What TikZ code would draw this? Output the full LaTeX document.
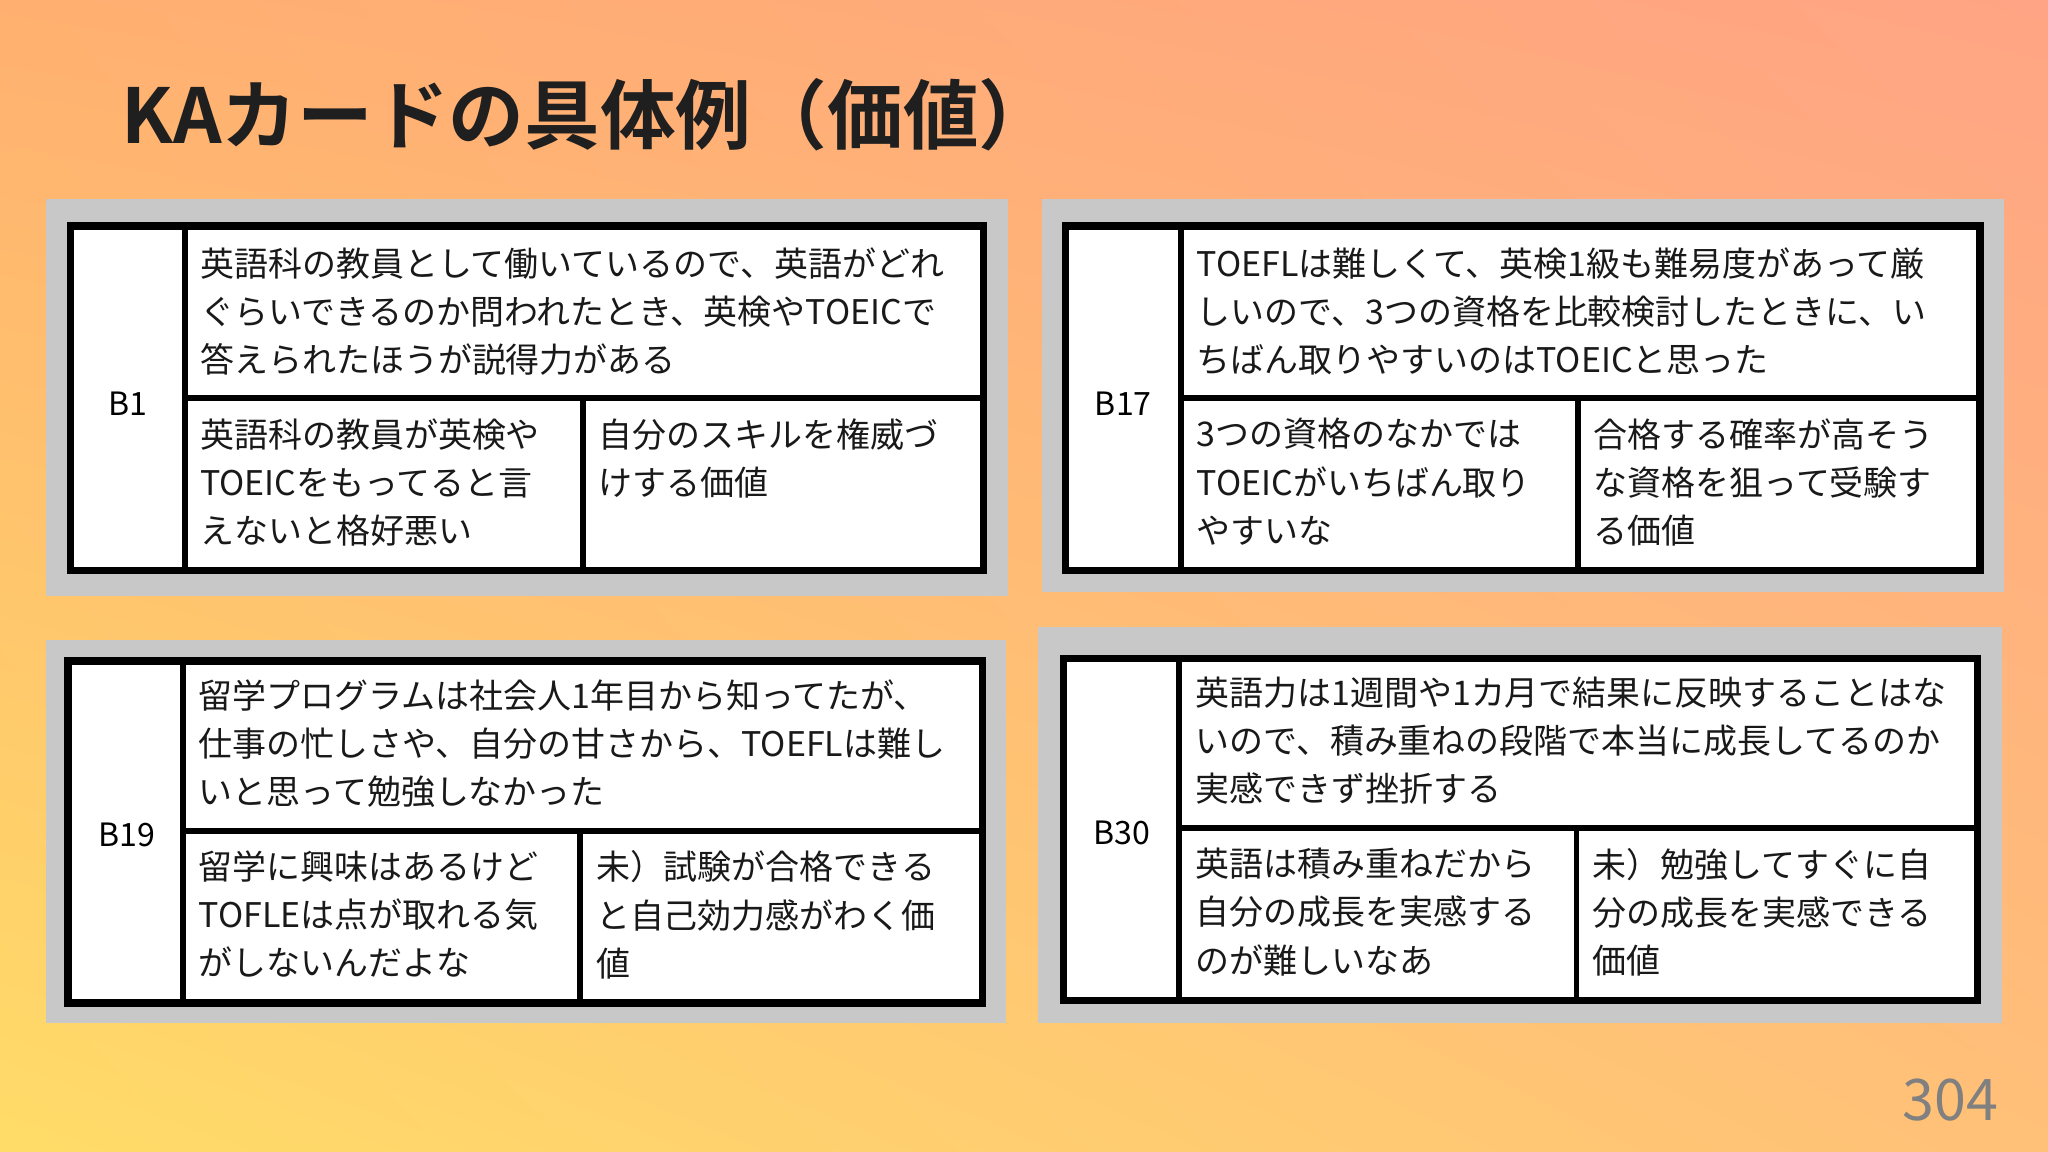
\documentclass[tikz,border=0pt]{standalone}
\usepackage{fontspec}
\usetikzlibrary{shadings}
\setmainfont{Noto Sans CJK JP}
\newfontfamily\titlefont{Noto Sans CJK JP Bold}
\definecolor{panelgray}{HTML}{C8C8C8}
\definecolor{bgA}{HTML}{FFB070}
\definecolor{bgB}{HTML}{FFA484}
\definecolor{bgC}{HTML}{FFDC68}
\definecolor{bgD}{HTML}{FFC078}
\tikzset{
  panel/.style={fill=panelgray,draw=none},
  tbl/.style={fill=white,draw=black,line width=3.2pt},
  sep/.style={draw=black,line width=2.6pt},
  celltext/.style={anchor=north west,inner sep=0pt,align=left,font=\fontsize{14.8}{21}\selectfont,text=black!90},
  lbl/.style={inner sep=0pt,font=\fontsize{14}{16}\selectfont}
}
\begin{document}
\begin{tikzpicture}[x=0.02cm,y=-0.02cm]
\useasboundingbox (0,0) rectangle (1568,882);
\shade[upper left=bgA,upper right=bgB,lower left=bgC,lower right=bgD] (0,0) rectangle (1568,882);
\node[anchor=base west,inner sep=0pt,font=\titlefont\fontsize{33}{38}\selectfont,text=black!88] (title) at (93,110) {KAカードの具体例（価値）};
\node[anchor=base east,inner sep=0pt,font=\fontsize{25}{30}\selectfont,text=black!50] (page) at (1530,858) {304};
% Card B1
\fill[panel] (35,152) rectangle (772,456);
\draw[tbl] (54,173) rectangle (753,437);
\draw[sep] (142,173) -- (142,437);
\draw[sep] (142,305) -- (753,305);
\draw[sep] (446,305) -- (446,437);
\node[lbl] (b1) at (98,309) {B1};
\node[celltext] (b1t) at (153,189) {英語科の教員として働いているので、英語がどれ\\ぐらいできるのか問われたとき、英検やTOEICで\\答えられたほうが説得力がある};
\node[celltext] (b1l) at (153,320) {英語科の教員が英検や\\TOEICをもってると言\\えないと格好悪い};
\node[celltext] (b1r) at (458,320) {自分のスキルを権威づ\\けする価値};
% Card B17
\fill[panel] (798,152) rectangle (1534,453);
\draw[tbl] (816,173) rectangle (1516,437);
\draw[sep] (904,173) -- (904,437);
\draw[sep] (904,305) -- (1516,305);
\draw[sep] (1208,305) -- (1208,437);
\node[lbl] (b17) at (860,309) {B17};
\node[celltext] (b17t) at (916,189) {TOEFLは難しくて、英検1級も難易度があって厳\\しいので、3つの資格を比較検討したときに、い\\ちばん取りやすいのはTOEICと思った};
\node[celltext] (b17l) at (916,320) {3つの資格のなかでは\\TOEICがいちばん取り\\やすいな};
\node[celltext] (b17r) at (1220,320) {合格する確率が高そう\\な資格を狙って受験す\\る価値};
% Card B19
\fill[panel] (35,490) rectangle (770,783);
\draw[tbl] (52,506) rectangle (752,768);
\draw[sep] (140,506) -- (140,768);
\draw[sep] (140,636) -- (752,636);
\draw[sep] (444,636) -- (444,768);
\node[lbl] (b19) at (97,639) {B19};
\node[celltext] (b19t) at (152,520) {留学プログラムは社会人1年目から知ってたが、\\仕事の忙しさや、自分の甘さから、TOEFLは難し\\いと思って勉強しなかった};
\node[celltext] (b19l) at (152,651) {留学に興味はあるけど\\TOFLEは点が取れる気\\がしないんだよな};
\node[celltext] (b19r) at (456,651) {未）試験が合格できる\\と自己効力感がわく価\\値};
% Card B30
\fill[panel] (795,480) rectangle (1533,783);
\draw[tbl] (814,504) rectangle (1514,766);
\draw[sep] (903,504) -- (903,766);
\draw[sep] (903,634) -- (1514,634);
\draw[sep] (1207,634) -- (1207,766);
\node[lbl] (b30) at (859,638) {B30};
\node[celltext] (b30t) at (915,518) {英語力は1週間や1カ月で結果に反映することはな\\いので、積み重ねの段階で本当に成長してるのか\\実感できず挫折する};
\node[celltext] (b30l) at (915,649) {英語は積み重ねだから\\自分の成長を実感する\\のが難しいなあ};
\node[celltext] (b30r) at (1219,649) {未）勉強してすぐに自\\分の成長を実感できる\\価値};
\end{tikzpicture}
\end{document}
